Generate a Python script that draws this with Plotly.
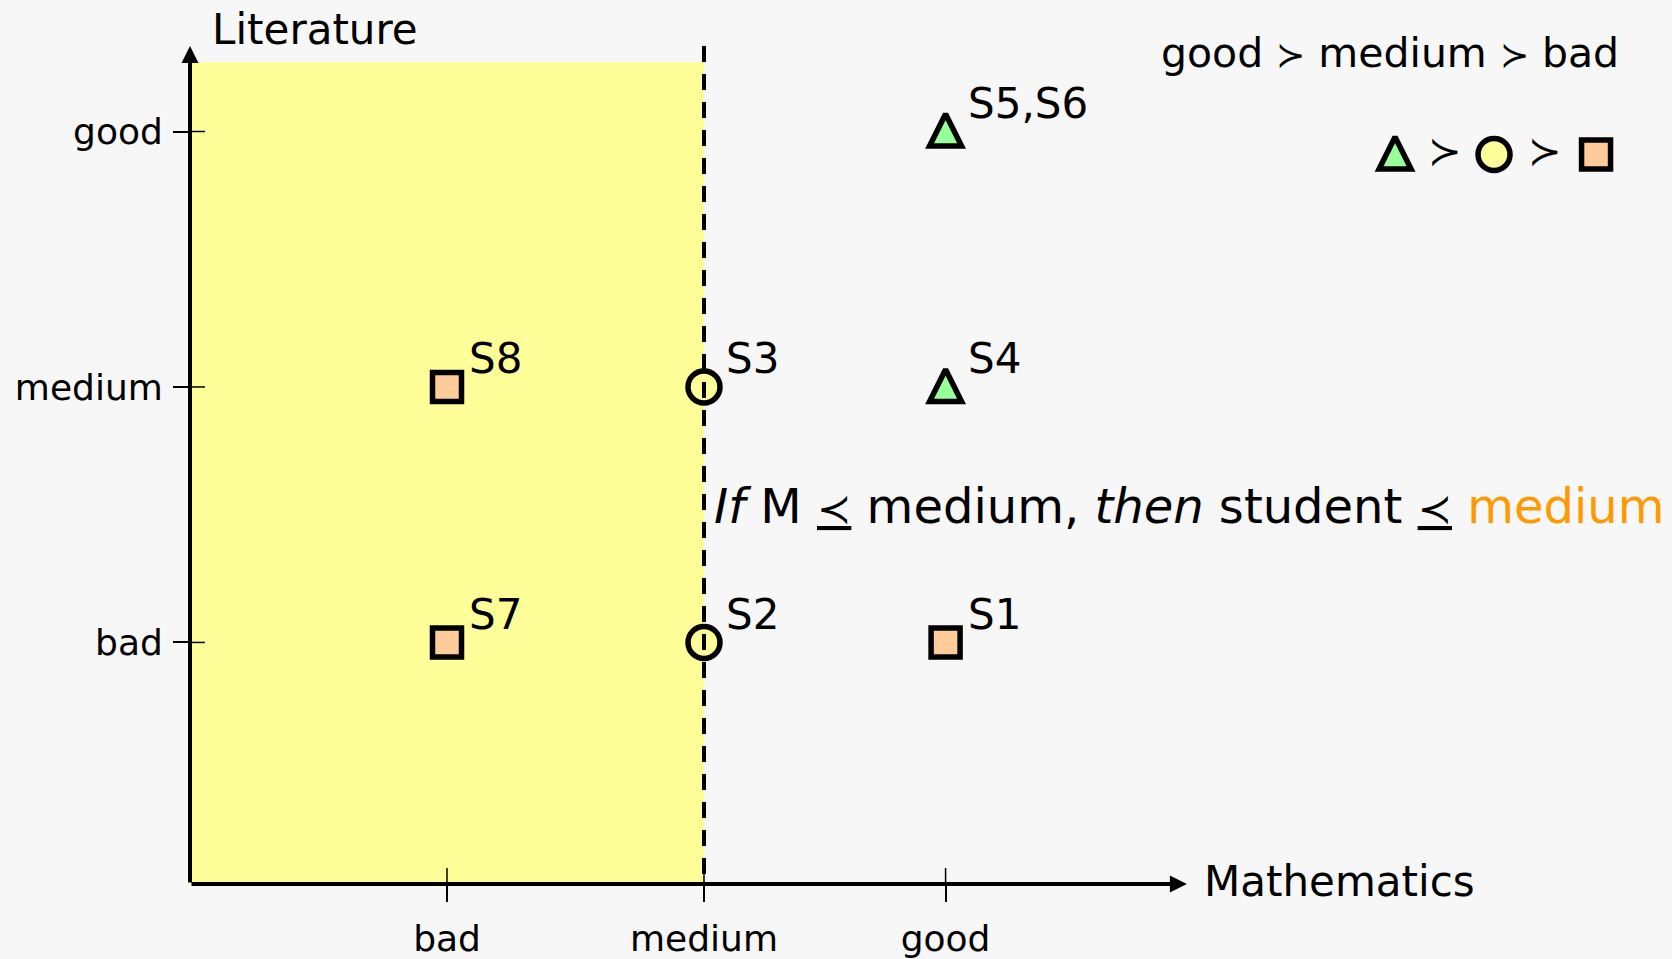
import plotly.graph_objects as go

# ---------------- data ----------------
grade_levels = ["bad", "medium", "good"]
math_tick_pos = [1.0, 2.0, 2.94]      # Mathematics axis position of each grade
lit_tick_pos = [1.0, 2.0, 3.0]        # Literature axis position of each grade

students = ["S1", "S2", "S3", "S4", "S5,S6", "S7", "S8"]
math_grade = ["good", "medium", "medium", "good", "good", "bad", "bad"]
lit_grade = ["bad", "bad", "medium", "medium", "good", "bad", "medium"]
overall_grade = ["bad", "medium", "medium", "good", "good", "bad", "bad"]

SUCC = "<span style='font-family:DejaVu Serif;font-size:35px'>≻</span>"
SUCC_BIG = "<span style='font-family:DejaVu Serif'>≻</span>"
PREC = "<span style='font-size:41px'><u>≺</u></span>"
order_text = f"good {SUCC} medium {SUCC} bad"
rule_text = (f"<i>If</i> M {PREC} medium, <i>then</i> student {PREC} "
             "<span style='color:#FF9900'>medium</span>")
threshold_grade = "medium"

# ---------------- styles ----------------
FONT = "DejaVu Sans"
BG = "#F7F7F7"
symbol_of = {"good": "arrow-up", "medium": "circle", "bad": "square"}
color_of = {"good": "#99FF99", "medium": "#FFFF99", "bad": "#FFCC99"}
size_of = {"good": 32, "medium": 32, "bad": 29}
axis_of = {"good": "y2", "medium": "y", "bad": "y"}   # y2 lifts the tip-anchored triangle

mx = dict(zip(grade_levels, math_tick_pos))
ly = dict(zip(grade_levels, lit_tick_pos))

# layout geometry (pixels)
W, H = 1672, 959
L, R, T, B = 190, 0, 46, 70
unit = 257.0
x_range = [0, (W - L - R) / unit]
y_bottom = 0.0545
y_range = [y_bottom, y_bottom + (H - T - B) / unit]
tri_lift = 17.5 / unit
y2_range = [y_range[0] - tri_lift, y_range[1] - tri_lift]
x_arrow_end = 3.879
shade_top = 3.272

fig = go.Figure()

# shaded region (everything with Mathematics <= threshold)
fig.add_shape(type="rect", xref="x", yref="y", x0=0, x1=mx[threshold_grade],
              y0=y_range[0] - 0.02, y1=shade_top, fillcolor="#FFFF99",
              line=dict(width=0), layer="below")

# dashed threshold line
fig.add_shape(type="line", xref="x", yref="paper", x0=mx[threshold_grade],
              x1=mx[threshold_grade], y0=1, y1=0,
              line=dict(color="black", width=4, dash="16px,12px"), layer="above")


def add_markers(xv, yv, g):
    fig.add_trace(go.Scatter(
        x=xv, y=yv, mode="markers", cliponaxis=False, showlegend=False,
        yaxis=axis_of[g],
        marker=dict(symbol=symbol_of[g], color=color_of[g], size=size_of[g], opacity=1,
                    line=dict(color="black", width=5.5)),
        hoverinfo="skip"))


# student markers
xs = [mx[g] for g in math_grade]
ys = [ly[g] for g in lit_grade]
for g in grade_levels:
    add_markers([x for x, o in zip(xs, overall_grade) if o == g],
                [y for y, o in zip(ys, overall_grade) if o == g], g)

for name, x, y in zip(students, xs, ys):
    fig.add_annotation(x=x, y=y, xref="x", yref="y", text=name, showarrow=False,
                       xanchor="left", yanchor="middle", xshift=20, yshift=28,
                       font=dict(family=FONT, size=42, color="black"))

# legend row (triangle ≻ circle ≻ square)
legend_order = ["good", "medium", "bad"]
legend_x = [4.689, 5.074, 5.471]
legend_y = 2.91
for g, x in zip(legend_order, legend_x):
    add_markers([x], [legend_y], g)
for i in range(2):
    fig.add_annotation(x=(legend_x[i] + legend_x[i + 1]) / 2, y=legend_y, xref="x", yref="y",
                       text=SUCC_BIG, showarrow=False, yshift=3,
                       font=dict(family=FONT, size=40, color="black"))

# axes arrows
fig.add_annotation(x=x_arrow_end, y=y_range[0], ax=0, ay=y_range[0], xref="x", yref="y",
                   axref="x", ayref="y", text="", showarrow=True, arrowhead=2,
                   arrowwidth=4, arrowsize=0.85, arrowcolor="black")
fig.add_annotation(x=0, y=y_range[1], ax=0, ay=y_range[0], xref="x", yref="y",
                   axref="x", ayref="y", text="", showarrow=True, arrowhead=2,
                   arrowwidth=4, arrowsize=0.85, arrowcolor="black")

# inner halves of the crossing ticks
for v in math_tick_pos:
    fig.add_shape(type="line", xref="x", yref="y", ysizemode="pixel", yanchor=y_range[0],
                  x0=v, x1=v, y0=0, y1=16, line=dict(color="black", width=1.5))
for v in lit_tick_pos:
    fig.add_shape(type="line", xref="x", yref="y", xsizemode="pixel", xanchor=0,
                  x0=0, x1=15, y0=v, y1=v, line=dict(color="black", width=1.5))

# axis titles and texts
fig.add_annotation(xref="paper", yref="paper", x=0, y=1, xanchor="left", yanchor="middle",
                   xshift=20, yshift=17, text="Literature", showarrow=False,
                   font=dict(family=FONT, size=42, color="black"))
fig.add_annotation(xref="x", yref="paper", x=x_arrow_end, y=0, xanchor="left", yanchor="middle",
                   xshift=15, yshift=3, text="Mathematics", showarrow=False,
                   font=dict(family=FONT, size=42, color="black"))
fig.add_annotation(xref="paper", yref="paper", x=0.9656, y=0.9917, xanchor="right",
                   yanchor="middle", text=order_text, showarrow=False,
                   font=dict(family=FONT, size=41, color="black"))
fig.add_annotation(xref="x", yref="y", x=mx[threshold_grade], y=1.533, xanchor="left",
                   yanchor="middle", xshift=8, text=rule_text, showarrow=False,
                   font=dict(family=FONT, size=48, color="black"))

fig.update_layout(
    width=W, height=H, margin=dict(l=L, r=R, t=T, b=B),
    paper_bgcolor=BG, plot_bgcolor=BG, showlegend=False,
    font=dict(family=FONT, color="black"),
    xaxis=dict(range=x_range, showgrid=False, zeroline=False, showline=False,
               tickmode="array", tickvals=math_tick_pos, ticktext=grade_levels,
               ticks="outside", ticklen=17, tickwidth=1.5, tickcolor="black",
               ticklabelstandoff=6, tickfont=dict(family=FONT, size=36, color="black"),
               fixedrange=True),
    yaxis=dict(range=y_range, showgrid=False, zeroline=False, showline=False,
               tickmode="array", tickvals=lit_tick_pos, ticktext=grade_levels,
               ticks="outside", ticklen=16, tickwidth=1.5, tickcolor="black",
               ticklabelstandoff=3, tickfont=dict(family=FONT, size=36, color="black"),
               fixedrange=True),
    yaxis2=dict(range=y2_range, overlaying="y", visible=False, fixedrange=True),
)

fig.write_html(
    "out.html",
    config={"displayModeBar": False},
    post_script="document.body.style.margin='0';document.body.style.background='#F7F7F7';"
                "document.documentElement.style.overflow='hidden';",
)
